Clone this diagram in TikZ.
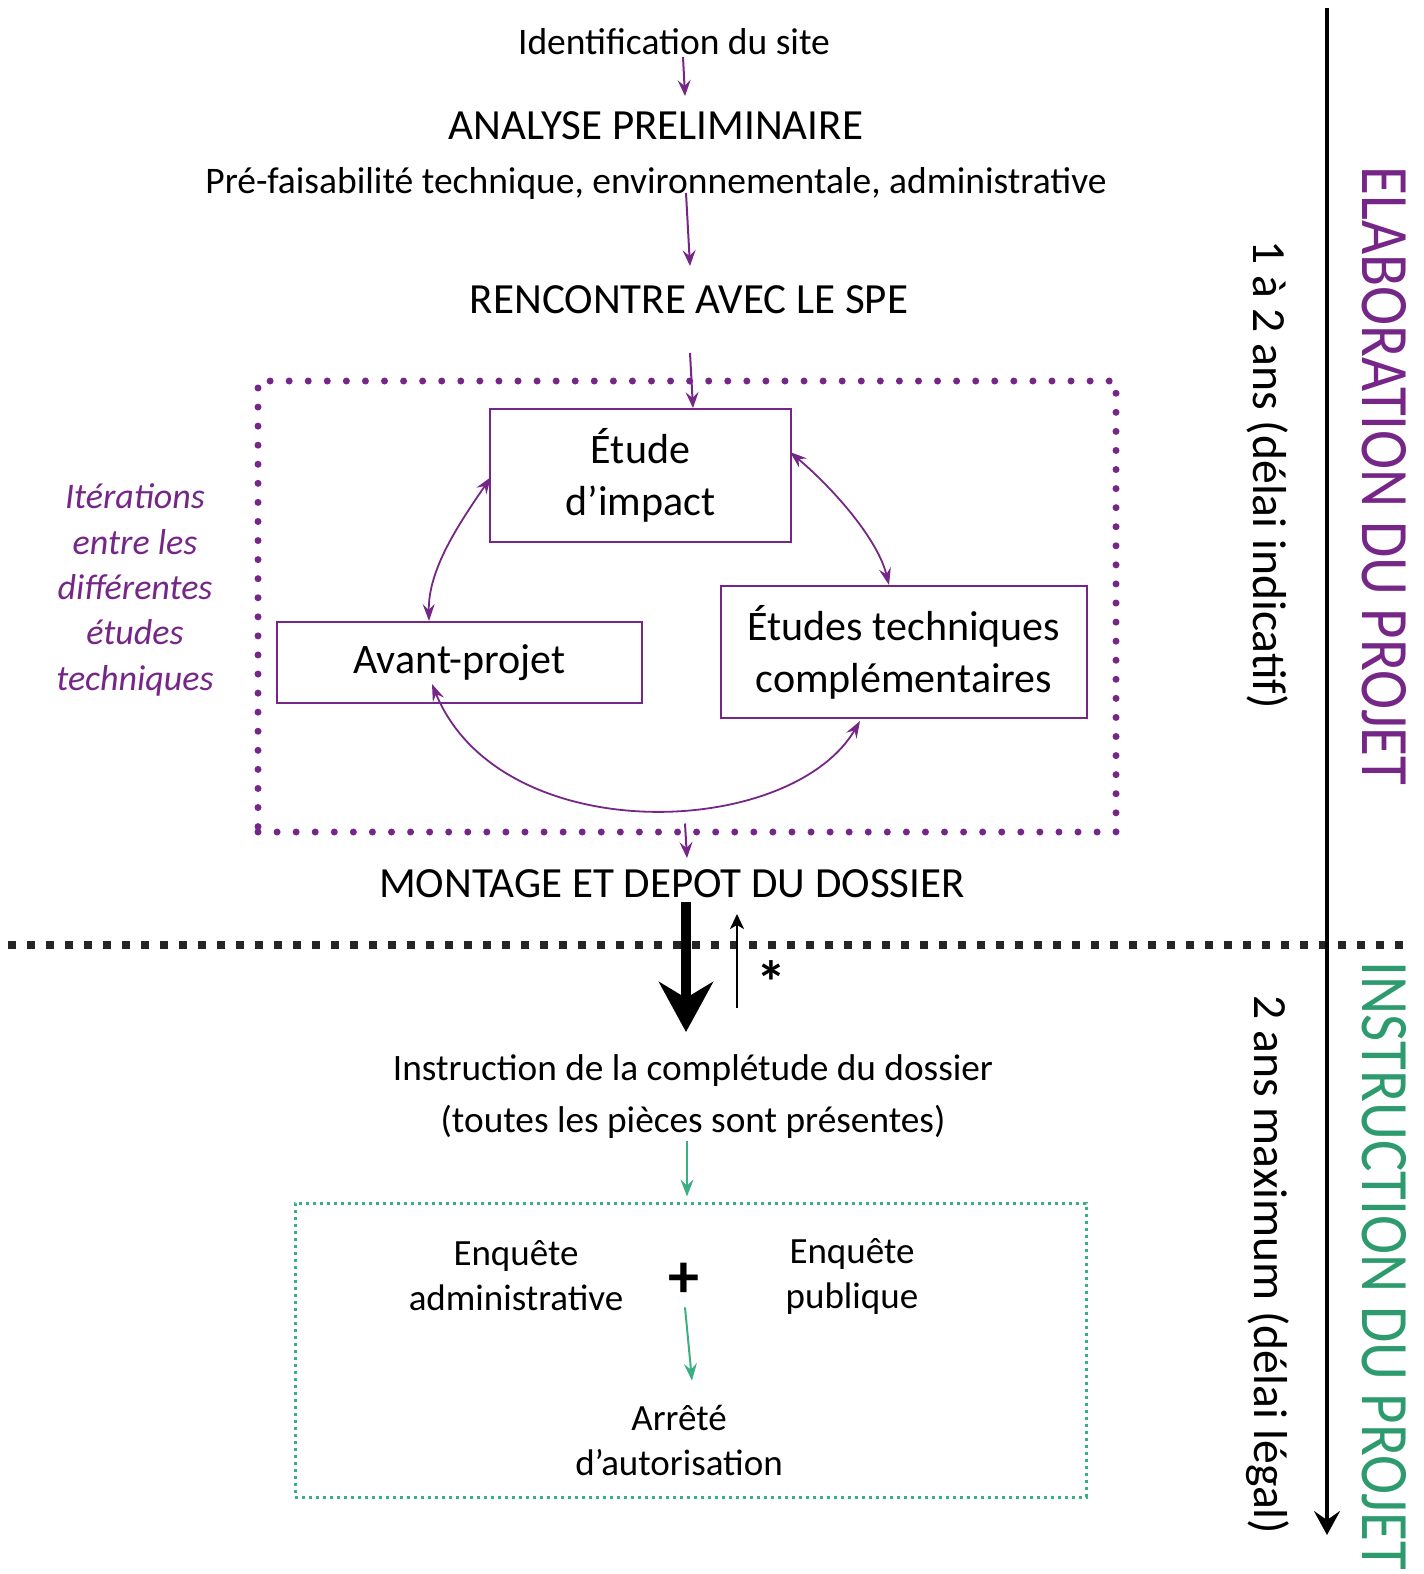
\documentclass[tikz,border=0pt]{standalone}
\usepackage{fontspec}
\setmainfont{Carlito}
\usetikzlibrary{arrows.meta,calc}
\definecolor{pur}{RGB}{118,38,135}
\definecolor{grn}{RGB}{46,155,110}
\definecolor{grnline}{RGB}{60,175,130}
\newcommand\fsz[2]{\fontsize{#1}{#2}\selectfont}
\begin{document}
\begin{tikzpicture}[x=1pt,y=-1pt,
  txt/.style={inner sep=0pt, anchor=base},
  mtxt/.style={inner sep=0pt, align=center},
  pbox/.style={draw=pur, line width=2pt, inner sep=0pt, align=center, font=\fsz{42}{52}},
  parr/.style={draw=pur, line width=2pt, -{Stealth[length=16pt,width=13pt,inset=6pt]}},
  pdbl/.style={draw=pur, line width=1.8pt, {Stealth[length=17pt,width=12pt,inset=6pt]}-{Stealth[length=17pt,width=12pt,inset=6pt]}},
  garr/.style={draw=grnline, line width=2pt, -{Stealth[length=17pt,width=13pt,inset=6pt]}},
  vtxt/.style={inner sep=0pt, rotate=-90, anchor=center}]
\useasboundingbox (0,0) rectangle (1424,1574);

% top texts
\node[txt, font=\fsz{37.5}{45}] (ident) at (674,54) {Identification du site};
\node[txt, font=\fsz{43}{48}] (analyse) at (656,139) {ANALYSE PRELIMINAIRE};
\node[txt, font=\fsz{37.5}{45}] (prefa) at (656,193) {Pré-faisabilité technique, environnementale, administrative};
\node[txt, font=\fsz{43}{48}] (renc) at (689,313) {RENCONTRE AVEC LE SPE};

\draw[parr] ($(ident.base)+(9,3)$) -- ($(analyse.base)+(29,-43)$);
\draw[parr] ($(prefa.base)+(30,0)$) -- ($(renc.base)+(1,-47)$);

% iteration frame
\node[draw=pur, line width=7pt, dash pattern=on 0pt off 19.07pt, line cap=round,
      minimum width=858pt, minimum height=451pt, inner sep=0pt] (iter) at (687,606.5) {};

% boxes
\node[pbox, minimum width=301pt, minimum height=133pt] (ei) at (640.5,475.5) {Étude\\d’impact};
\node[pbox, minimum width=365pt, minimum height=81pt] (ap) at (459.5,662.5) {Avant-projet};
\node[pbox, minimum width=366pt, minimum height=132pt] (et) at (904,652) {Études techniques\\complémentaires};

\draw[parr] ($(renc.base)+(1,40)$) -- ($(ei.north)+(52.5,0)$);

\draw[pdbl] ($(ei.north west)+(2,69)$) .. controls (458,525) and (428,570) .. ($(ap.north west)+(153,0)$);
\draw[pdbl] ($(ei.north east)+(-2,44)$) .. controls (835,490) and (878,540) .. ($(et.north west)+(169,0)$);
\draw[pdbl] ($(ap.south west)+(156,-20)$) .. controls (500,850) and (790,840) .. ($(et.south west)+(140,2)$);

\node[txt, font=\fsz{43}{48}] (mont) at (672,897) {MONTAGE ET DEPOT DU DOSSIER};
\draw[parr] ($(iter.south)+(-2,-12)$) -- ($(mont.base)+(15,-39)$);

\node[mtxt, font=\itshape\fsz{36}{45.3}, text=pur] (iterlbl) at (135,590) {Itérations\\entre les\\différentes\\études\\techniques};

% separation
\coordinate (hl) at (8,945);
\coordinate (hr) at (1404,945);
\draw[line width=8pt, dash pattern=on 8pt off 11pt, black!85] (hl) -- (hr);

\coordinate (vt) at (1327,8);
\coordinate (vb) at (1327,1535);
\draw[line width=3.5pt, -{Stealth[length=24pt,width=26pt,inset=9pt]}] (vt) -- (vb);

% big arrow
\draw[line width=10pt, -{Stealth[length=50pt,width=54pt,inset=16pt]}] ($(mont.base)+(14,5)$) -- ($(mont.base)+(14,135)$);
\draw[line width=2.5pt, -{Stealth[length=15pt,width=14pt,inset=4pt]}] ($(mont.base)+(65,111)$) -- ($(mont.base)+(65,17)$);
\node[inner sep=0pt, font=\bfseries\fsz{60}{60}] (star) at (771,982) {*};

% instruction
\node[mtxt, font=\fsz{37.3}{52}] (instr) at (693,1097) {Instruction de la complétude du dossier\\(toutes les pièces sont présentes)};

\node[draw=grnline, line width=3pt, dash pattern=on 3pt off 4pt, minimum width=791pt, minimum height=294pt, inner sep=0pt] (enq) at (690.5,1350) {};
\draw[garr] ($(instr.south)+(-6,2)$) -- ($(enq.north)+(-3.5,-5)$);

\node[mtxt, font=\fsz{37}{45}] (adm) at (516,1276) {Enquête\\administrative};
\node[mtxt, font=\fsz{37}{45}] (pub) at (852,1276) {Enquête\\publique};
\node[inner sep=0pt, font=\bfseries\fsz{62}{62}] (plus) at (684,1280) {+};
\node[mtxt, font=\fsz{37}{45}] (arr) at (679,1440) {Arrêté\\d’autorisation};
\draw[garr] ($(plus.south)+(1,10)$) -- ($(arr.north)+(13,-24)$);

% vertical labels
\node[vtxt, font=\fsz{47.6}{50}] (d1) at (1268,475) {1 à 2 ans (délai indicatif)};
\node[vtxt, font=\fsz{47.6}{50}] (d2) at (1268,1265) {2 ans maximum (délai légal)};
\node[vtxt, font=\fsz{59}{60}, text=pur] (elab) at (1384,476) {\scalebox{1}[1.15]{ELABORATION DU PROJET}};
\node[vtxt, font=\fsz{59}{60}, text=grn] (instp) at (1384,1266) {\scalebox{1}[1.15]{INSTRUCTION DU PROJET}};
\end{tikzpicture}
\end{document}
